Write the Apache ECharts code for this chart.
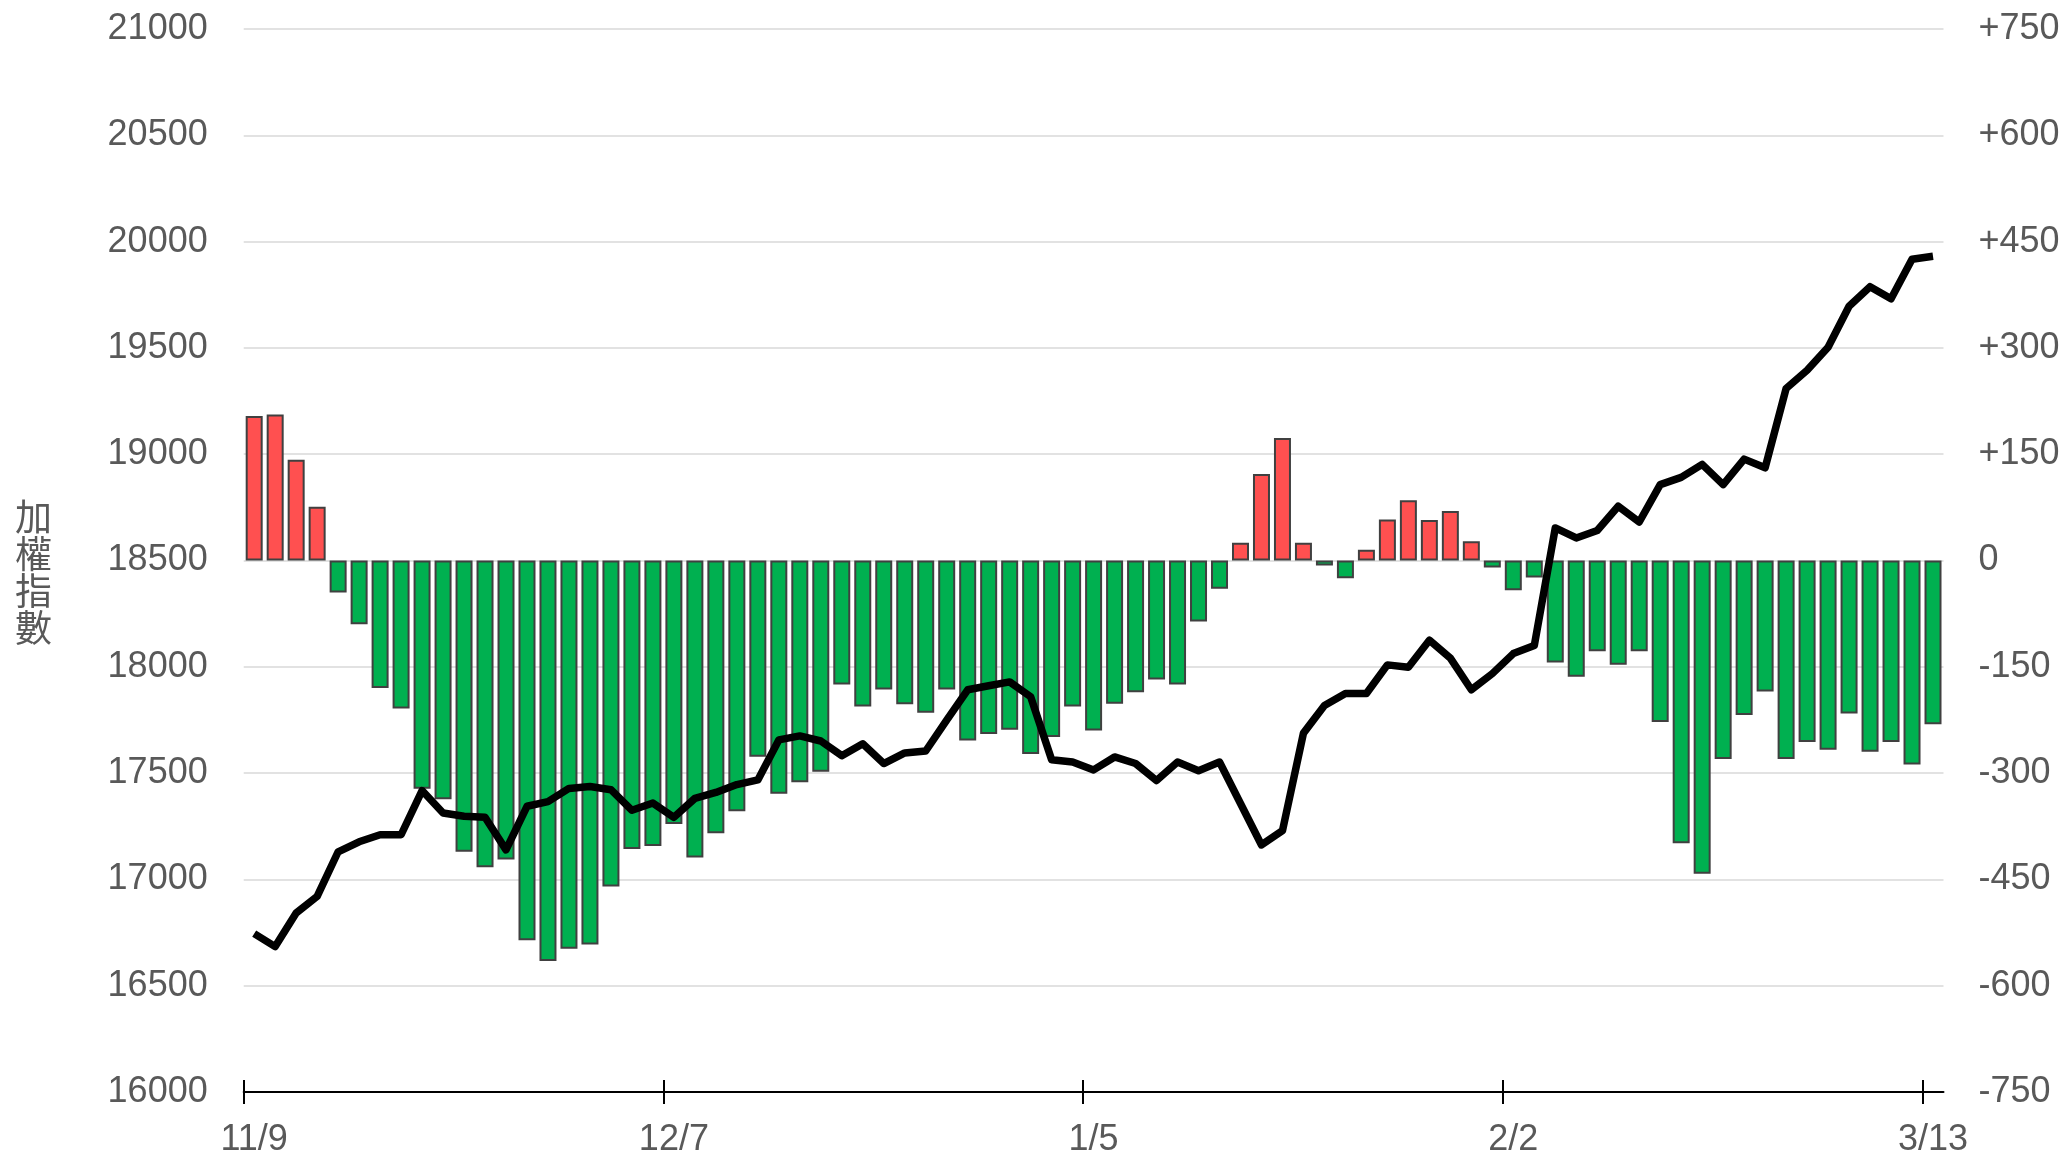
<!DOCTYPE html>
<html>
<head>
<meta charset="utf-8">
<title>加權指數</title>
<script src="https://cdn.jsdelivr.net/npm/echarts@6/dist/echarts.min.js"></script>
<style>
	html, body { margin: 0; padding: 0; background: #fff; }
	#chart { width: 2066px; height: 1160px; }
</style>
</head>
<body>
<div id="chart"></div>
<script>
	// trading days 11/9 -> 3/13
	const dates = [
		'11/9', '11/10', '11/13', '11/14', '11/15', '11/16', '11/17', '11/20', '11/21', '11/22',
		'11/23', '11/24', '11/27', '11/28', '11/29', '11/30', '12/1', '12/4', '12/5', '12/6',
		'12/7', '12/8', '12/11', '12/12', '12/13', '12/14', '12/15', '12/18', '12/19', '12/20',
		'12/21', '12/22', '12/25', '12/26', '12/27', '12/28', '12/29', '1/2', '1/3', '1/4',
		'1/5', '1/8', '1/9', '1/10', '1/11', '1/12', '1/15', '1/16', '1/17', '1/18',
		'1/19', '1/22', '1/23', '1/24', '1/25', '1/26', '1/29', '1/30', '1/31', '2/1',
		'2/2', '2/5', '2/15', '2/16', '2/19', '2/20', '2/21', '2/22', '2/23', '2/26',
		'2/27', '2/29', '3/1', '3/4', '3/5', '3/6', '3/7', '3/8', '3/11', '3/12',
		'3/13'
	]

	// 加權指數 (left axis)
	const indexValues = [
		16745, 16684, 16842, 16920, 17130, 17177, 17210, 17210, 17418, 17312,
		17297, 17292, 17139, 17344, 17366, 17428, 17437, 17422, 17325, 17359,
		17292, 17381, 17409, 17446, 17468, 17656, 17675, 17651, 17582, 17638,
		17545, 17595, 17604, 17749, 17892, 17911, 17929, 17859, 17563, 17552,
		17515, 17576, 17545, 17465, 17552, 17511, 17552, 17357, 17162, 17229,
		17688, 17818, 17874, 17874, 18009, 17998, 18125, 18041, 17892, 17968,
		18062, 18100, 18653, 18606, 18641, 18755, 18681, 18857, 18891, 18952,
		18857, 18977, 18936, 19309, 19395, 19503, 19696, 19788, 19731, 19917,
		19931
	]

	// bars (right axis)
	const barValues = [
		204, 206, 142, 76, -45, -90, -180, -209, -322, -337,
		-411, -433, -422, -536, -565, -548, -542, -460, -407, -403,
		-372, -419, -385, -354, -277, -329, -313, -298, -175, -206,
		-182, -203, -215, -182, -254, -245, -239, -273, -249, -206,
		-240, -202, -186, -168, -175, -86, -40, 25, 122, 173,
		25, -7, -25, 15, 58, 85, 57, 70, 27, -10,
		-42, -24, -144, -164, -128, -147, -128, -228, -399, -442,
		-280, -218, -185, -280, -256, -267, -216, -270, -256, -288,
		-231
	]

	const leftTicks = { min: 16000, max: 21000, step: 500 }
	const rightTicks = { min: -750, max: 750, step: 150 }

	const RED = '#ff5050'
	const GREEN = '#00b050'
	const TEXT = '#595959'
	const FONT = '"Liberation Sans", Arial, sans-serif'

	var chart = echarts.init(document.getElementById('chart'))

	var option = {
		animation: false,
		backgroundColor: '#fff',
		grid: [
			{ left: 243.7, right: 122.5, top: 29, bottom: 68 },
			// only carries the date ticks, which sit on category boundaries 0,20,...,80
			{ left: 243.7, right: 143.5, top: 29, bottom: 68 }
		],
		graphic: [{
			type: 'text',
			left: 15,
			top: 498,
			style: {
				text: '加\n權\n指\n數',
				font: '37px "Noto Sans CJK TC", sans-serif',
				lineHeight: 37,
				fill: TEXT
			}
		}],
		xAxis: [
			{
				type: 'category',
				data: dates,
				boundaryGap: true,
				axisLine: { onZero: false, lineStyle: { color: '#000', width: 2 } },
				axisTick: { show: false },
				axisLabel: {
					interval: function (i) { return i % 20 === 0 },
					color: TEXT,
					fontSize: 36,
					fontFamily: FONT,
					margin: 30
				},
				splitLine: { show: false }
			},
			{
				gridIndex: 1,
				type: 'value',
				min: 0,
				max: 80,
				interval: 20,
				offset: 12,
				axisLine: { show: false, onZero: false },
				axisTick: { show: true, inside: true, length: 24, lineStyle: { color: '#000', width: 2 } },
				axisLabel: { show: false },
				splitLine: { show: false }
			}
		],
		yAxis: [
			{
				type: 'value',
				min: leftTicks.min,
				max: leftTicks.max,
				interval: leftTicks.step,
				axisLine: { show: false },
				axisTick: { show: false },
				axisLabel: {
					color: TEXT,
					fontSize: 36,
					fontFamily: FONT,
					margin: 36,
					formatter: function (v) { return String(v) }
				},
				splitLine: { lineStyle: { color: '#d9d9d9', width: 1.5 } }
			},
			{
				type: 'value',
				position: 'right',
				min: rightTicks.min,
				max: rightTicks.max,
				interval: rightTicks.step,
				axisLine: { show: false },
				axisTick: { show: false },
				axisLabel: {
					color: TEXT,
					fontSize: 36,
					fontFamily: FONT,
					margin: 35,
					formatter: function (v) { return v > 0 ? '+' + v : String(v) }
				},
				splitLine: { show: false }
			},
			{ gridIndex: 1, type: 'value', show: false, min: 0, max: 1 }
		],
		series: [
			{
				type: 'bar',
				yAxisIndex: 1,
				data: barValues,
				barCategoryGap: '19%',
				itemStyle: {
					color: function (p) { return p.value >= 0 ? RED : GREEN },
					borderColor: '#404040',
					borderWidth: 2
				},
				z: 2
			},
			{
				type: 'line',
				yAxisIndex: 0,
				data: indexValues,
				symbol: 'none',
				lineStyle: { color: '#000', width: 7.5, join: 'round' },
				z: 5
			}
		]
	}

	chart.setOption(option)
</script>
</body>
</html>
